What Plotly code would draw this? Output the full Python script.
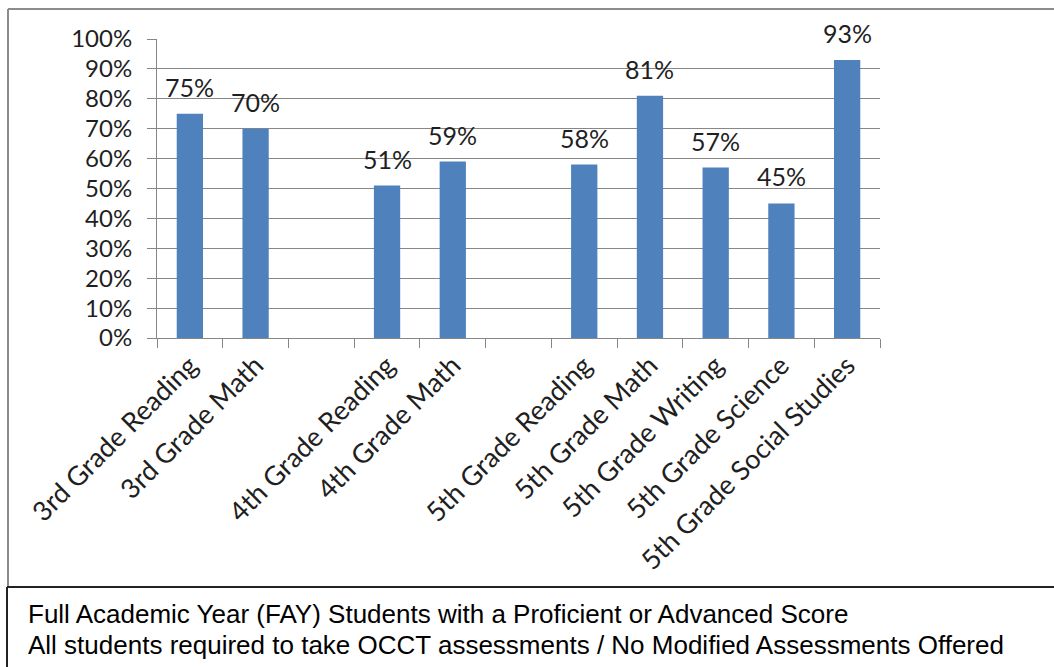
import plotly.graph_objects as go

# Proficiency results by assessment; blank slots separate the grade groups
categories = [
    "3rd Grade Reading", "3rd Grade Math", " ",
    "4th Grade Reading", "4th Grade Math", "  ",
    "5th Grade Reading", "5th Grade Math", "5th Grade Writing",
    "5th Grade Science", "5th Grade Social Studies",
]
values = [75, 70, None, 51, 59, None, 58, 81, 57, 45, 93]
y_ticks = [0, 10, 20, 30, 40, 50, 60, 70, 80, 90, 100]
notes = [
    "Full Academic Year (FAY) Students with a Proficient or Advanced Score",
    "All students required to take OCCT assessments / No Modified Assessments Offered",
]

W, H = 1054, 667
L, R, T, B = 157, 880, 39, 338  # plot area in pixels
BAR = "#4F81BD"
GRID = "#878787"
FONT = "Lato"
TEXT = "#1F1F1F"


def px_x(p):
    return (p - L) / (R - L)


def px_y(p):
    return (B - p) / (B - T)


fig = go.Figure(
    go.Bar(
        x=categories,
        y=values,
        marker=dict(color=BAR, line=dict(width=0)),
        hoverinfo="x+y",
    )
)

# value labels above each bar
for c, v in zip(categories, values):
    if v is None:
        continue
    fig.add_annotation(
        x=c, y=v, text=f"{v}%", showarrow=False,
        yanchor="middle", yshift=27,
        font=dict(family=FONT, size=25, color=TEXT),
    )

# footnote lines in the lower box
for i, line in enumerate(notes):
    fig.add_annotation(
        xref="paper", yref="paper",
        x=px_x(26), y=px_y(614 + 31 * i),
        xanchor="left", yanchor="middle",
        text=line, showarrow=False,
        font=dict(family="Liberation Sans, Arial", size=26, color="#000000"),
    )

shapes = [
    # chart frame (gray)
    dict(type="line", xref="paper", yref="paper",
         x0=px_x(8), x1=px_x(W), y0=px_y(9), y1=px_y(9),
         line=dict(color="#8C8C8C", width=2)),
    dict(type="line", xref="paper", yref="paper",
         x0=px_x(8), x1=px_x(8), y0=px_y(9), y1=px_y(586),
         line=dict(color="#8C8C8C", width=2)),
    # footnote box (dark)
    dict(type="line", xref="paper", yref="paper",
         x0=px_x(7), x1=px_x(W), y0=px_y(587), y1=px_y(587),
         line=dict(color="#222222", width=2)),
    dict(type="line", xref="paper", yref="paper",
         x0=px_x(7), x1=px_x(7), y0=px_y(587), y1=px_y(H),
         line=dict(color="#222222", width=2)),
]

fig.update_layout(
    width=W, height=H,
    margin=dict(l=L, r=W - R, t=T, b=H - B, pad=0),
    paper_bgcolor="white", plot_bgcolor="white",
    bargap=0.6,
    showlegend=False,
    shapes=shapes,
    font=dict(family=FONT, size=22, color=TEXT),
)

fig.update_xaxes(
    type="category",
    categoryorder="array", categoryarray=categories,
    tickangle=-45,
    tickson="boundaries",
    ticks="outside", ticklen=9, tickcolor=GRID, tickwidth=1,
    showline=True, linecolor=GRID, linewidth=1,
    showgrid=False,
    ticklabelstandoff=0,
    tickfont=dict(family=FONT, size=27, color=TEXT),
    fixedrange=True,
)

fig.update_yaxes(
    range=[0, 100],
    tickvals=y_ticks,
    ticktext=[f"{t}%" for t in y_ticks],
    ticks="outside", ticklen=9, tickcolor=GRID, tickwidth=1,
    showline=True, linecolor=GRID, linewidth=1,
    showgrid=True, gridcolor=GRID, gridwidth=1,
    zeroline=False,
    ticklabelstandoff=10,
    tickfont=dict(family=FONT, size=24, color=TEXT),
    fixedrange=True,
)

fig.write_html("out.html", config={"displayModeBar": False})
